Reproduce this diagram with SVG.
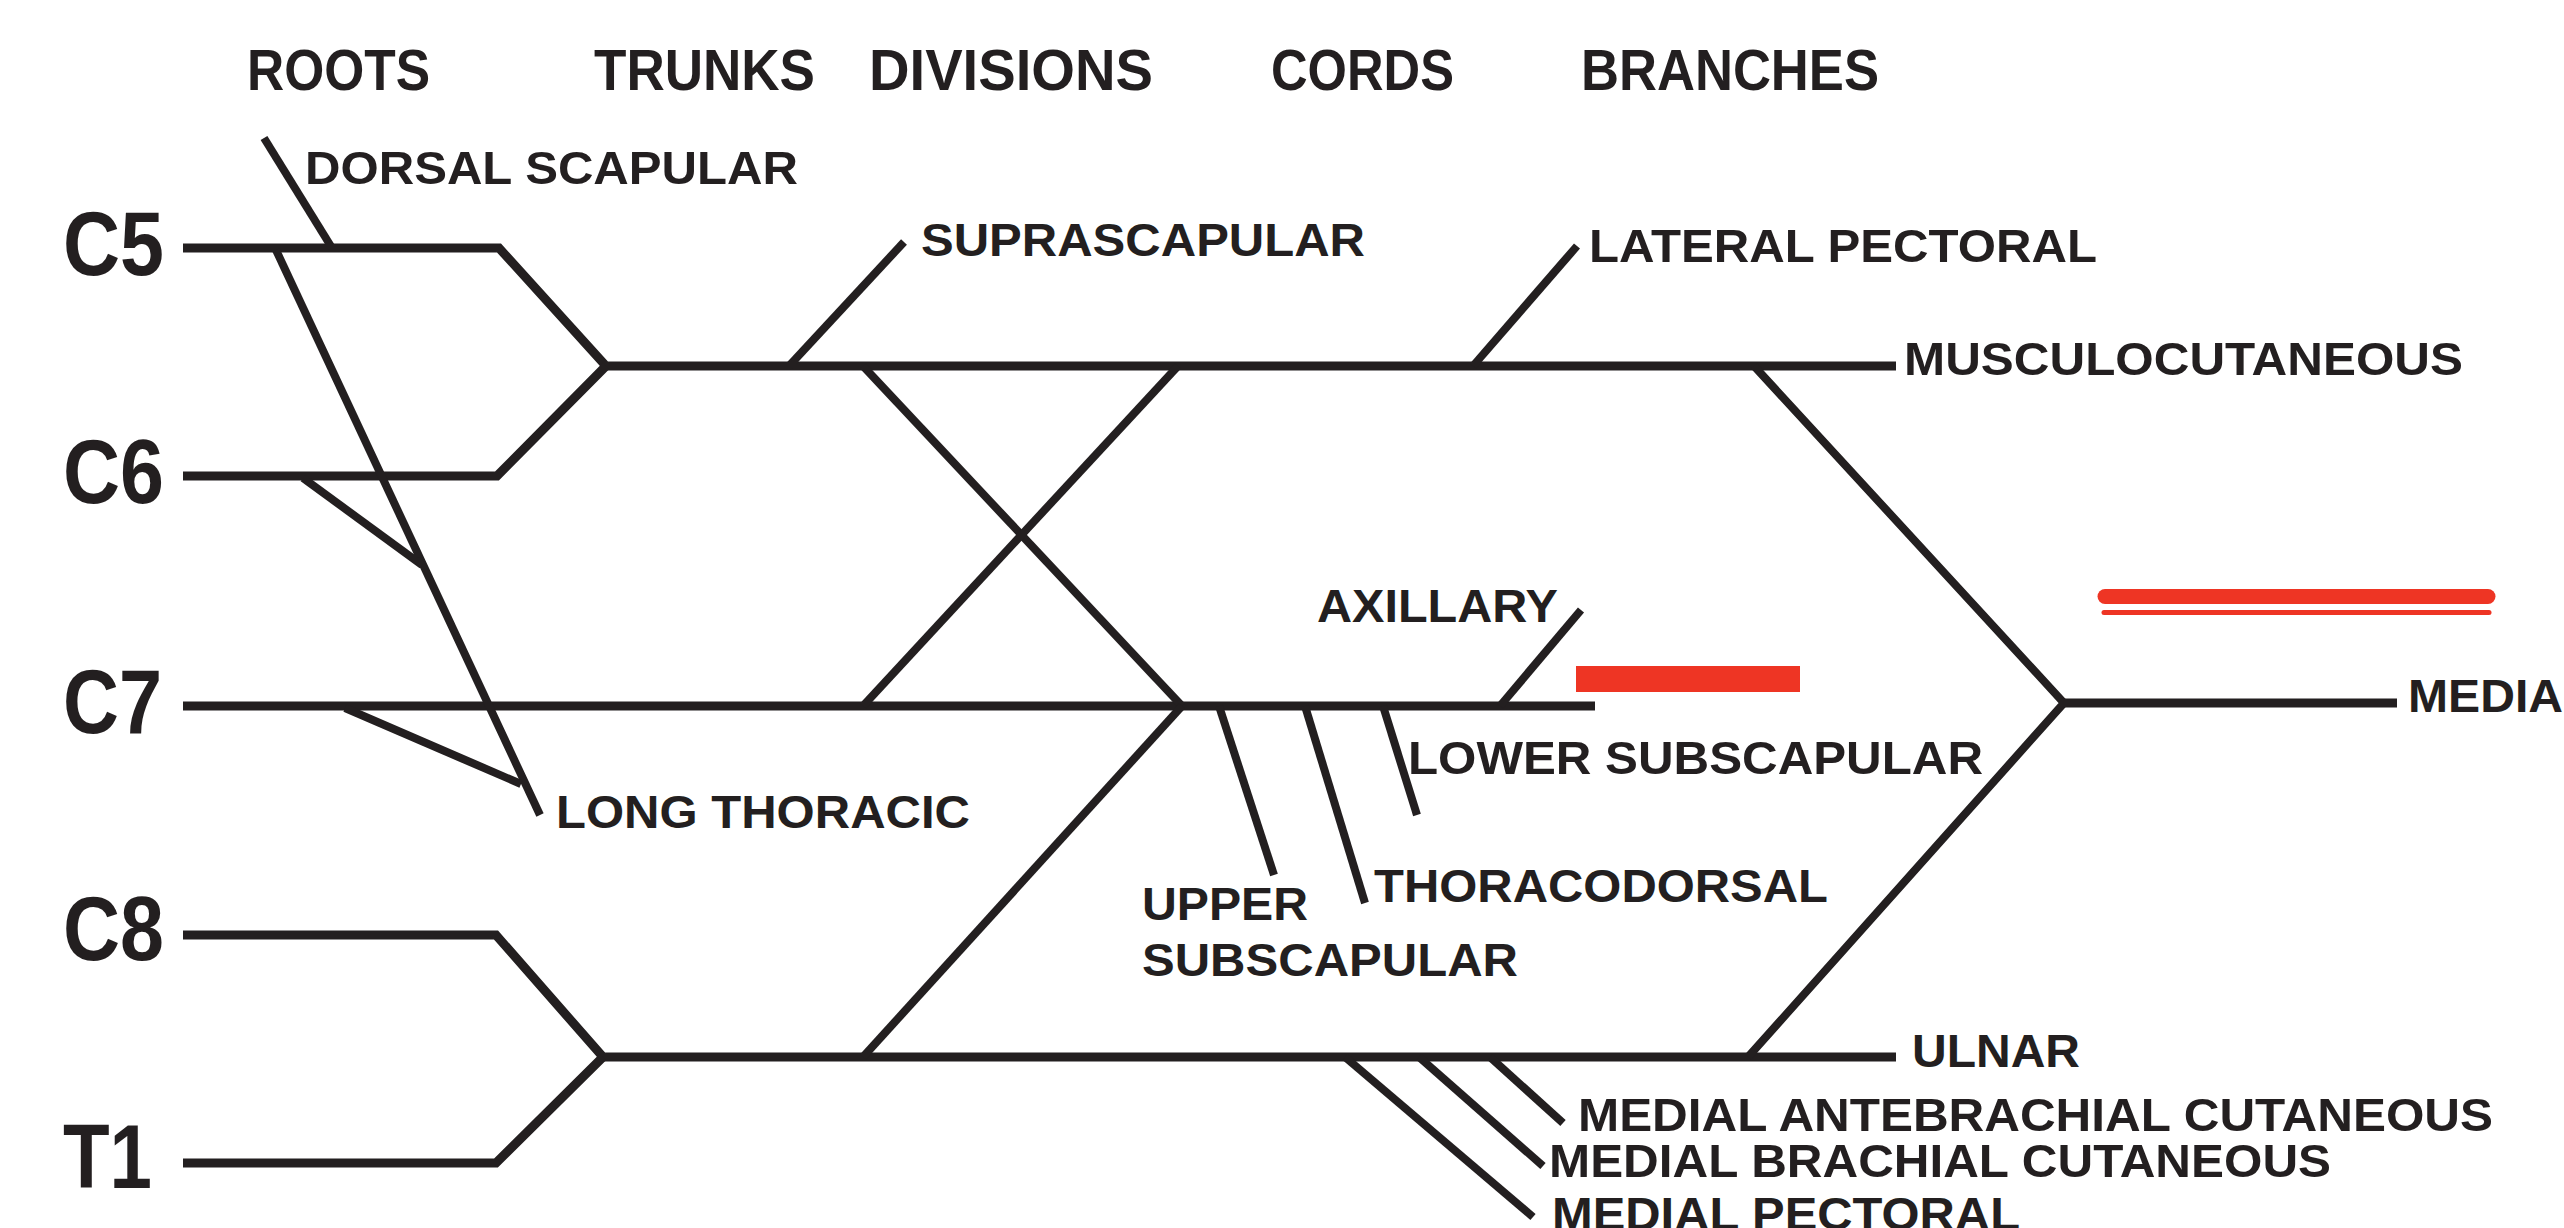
<svg xmlns="http://www.w3.org/2000/svg" width="2564" height="1228" viewBox="0 0 2564 1228">
<style>
.title{font-family:"Liberation Sans",Arial,sans-serif;font-weight:bold;font-size:57px;fill:#231f20}
.root{font-family:"Liberation Sans",Arial,sans-serif;font-weight:bold;font-size:90px;fill:#231f20}
.lbl{font-family:"Liberation Sans",Arial,sans-serif;font-weight:bold;font-size:47px;fill:#231f20}
.main{fill:none;stroke:#231f20;stroke-width:9;stroke-linejoin:miter;stroke-linecap:butt}
.br{fill:none;stroke:#231f20;stroke-width:8;stroke-linecap:butt}
</style>
<rect x="0" y="0" width="2564" height="1228" fill="#ffffff"/>
<g id="headers">
<text class="title" x="247" y="90" textLength="183" lengthAdjust="spacingAndGlyphs">ROOTS</text>
<text class="title" x="594" y="90" textLength="221" lengthAdjust="spacingAndGlyphs">TRUNKS</text>
<text class="title" x="869" y="90" textLength="284" lengthAdjust="spacingAndGlyphs">DIVISIONS</text>
<text class="title" x="1271" y="90" textLength="183" lengthAdjust="spacingAndGlyphs">CORDS</text>
<text class="title" x="1581" y="90" textLength="298" lengthAdjust="spacingAndGlyphs">BRANCHES</text>
</g>
<g id="node-c5"><text class="root" x="63" y="275" textLength="101" lengthAdjust="spacingAndGlyphs">C5</text></g>
<g id="node-c6"><text class="root" x="63" y="503" textLength="101" lengthAdjust="spacingAndGlyphs">C6</text></g>
<g id="node-c7"><text class="root" x="63" y="733" textLength="99" lengthAdjust="spacingAndGlyphs">C7</text></g>
<g id="node-c8"><text class="root" x="63" y="960" textLength="101" lengthAdjust="spacingAndGlyphs">C8</text></g>
<g id="node-t1"><text class="root" x="63" y="1188" textLength="89" lengthAdjust="spacingAndGlyphs">T1</text></g>
<g id="node-dorsal-scapular"><text class="lbl" x="305" y="184" textLength="493" lengthAdjust="spacingAndGlyphs">DORSAL SCAPULAR</text></g>
<g id="node-suprascapular"><text class="lbl" x="921" y="256" textLength="444" lengthAdjust="spacingAndGlyphs">SUPRASCAPULAR</text></g>
<g id="node-lateral-pectoral"><text class="lbl" x="1589" y="262" textLength="508" lengthAdjust="spacingAndGlyphs">LATERAL PECTORAL</text></g>
<g id="node-musculocutaneous"><text class="lbl" x="1904" y="375" textLength="559" lengthAdjust="spacingAndGlyphs">MUSCULOCUTANEOUS</text></g>
<g id="node-axillary"><text class="lbl" x="1317" y="622" textLength="241" lengthAdjust="spacingAndGlyphs">AXILLARY</text></g>
<g id="node-median"><text class="lbl" x="2408" y="712" textLength="155" lengthAdjust="spacingAndGlyphs">MEDIA</text></g>
<g id="node-long-thoracic"><text class="lbl" x="556" y="828" textLength="414" lengthAdjust="spacingAndGlyphs">LONG THORACIC</text></g>
<g id="node-lower-subscapular"><text class="lbl" x="1408" y="774" textLength="575" lengthAdjust="spacingAndGlyphs">LOWER SUBSCAPULAR</text></g>
<g id="node-thoracodorsal"><text class="lbl" x="1374" y="902" textLength="454" lengthAdjust="spacingAndGlyphs">THORACODORSAL</text></g>
<g id="node-upper-subscapular">
<text class="lbl" x="1142" y="920" textLength="166" lengthAdjust="spacingAndGlyphs">UPPER</text>
<text class="lbl" x="1142" y="976" textLength="376" lengthAdjust="spacingAndGlyphs">SUBSCAPULAR</text>
</g>
<g id="node-ulnar"><text class="lbl" x="1912" y="1067" textLength="168" lengthAdjust="spacingAndGlyphs">ULNAR</text></g>
<g id="node-medial-antebrachial"><text class="lbl" x="1578" y="1131" textLength="915" lengthAdjust="spacingAndGlyphs">MEDIAL ANTEBRACHIAL CUTANEOUS</text></g>
<g id="node-medial-brachial"><text class="lbl" x="1549" y="1177" textLength="782" lengthAdjust="spacingAndGlyphs">MEDIAL BRACHIAL CUTANEOUS</text></g>
<g id="node-medial-pectoral"><text class="lbl" x="1552" y="1230" textLength="468" lengthAdjust="spacingAndGlyphs">MEDIAL PECTORAL</text></g>
<g id="connectors">
<path class="main" d="M183 248 H499 L606 366 H1896"/>
<path class="main" d="M183 476 H497 L606 366"/>
<path class="main" d="M183 706 H1595"/>
<path class="main" d="M183 935 H496 L603 1057 H1896"/>
<path class="main" d="M183 1163 H496 L603 1057"/>
<path class="br" d="M863 366 L1182 706"/>
<path class="br" d="M863 706 L1178 366"/>
<path class="br" d="M863 1057 L1182 706"/>
<path class="br" d="M1754 366 L2064 703 L1748 1057"/>
<path class="main" d="M2062 703 H2397"/>
<path class="br" d="M264 138 L332 248"/>
<path class="br" d="M276 250 L540 815"/>
<path class="br" d="M303 478 L422 565"/>
<path class="br" d="M345 708 L521 784"/>
<path class="br" d="M789 366 L904 242"/>
<path class="br" d="M1473 366 L1577 246"/>
<path class="br" d="M1500 706 L1581 610"/>
<path class="br" d="M1219 706 L1274 875"/>
<path class="br" d="M1305 706 L1365 903"/>
<path class="br" d="M1383 706 L1417 815"/>
<path class="br" d="M1345 1057 L1533 1217"/>
<path class="br" d="M1419 1057 L1543 1166"/>
<path class="br" d="M1490 1057 L1563 1123"/>
</g>
<g id="marks">
<rect x="1576" y="666" width="224" height="26" fill="#ee3524"/>
<line x1="2105" y1="596.5" x2="2488" y2="596.5" stroke="#ee3524" stroke-width="15" stroke-linecap="round"/>
<line x1="2104" y1="612.5" x2="2489" y2="612.5" stroke="#ee3524" stroke-width="5" stroke-linecap="round"/>
</g>
</svg>
